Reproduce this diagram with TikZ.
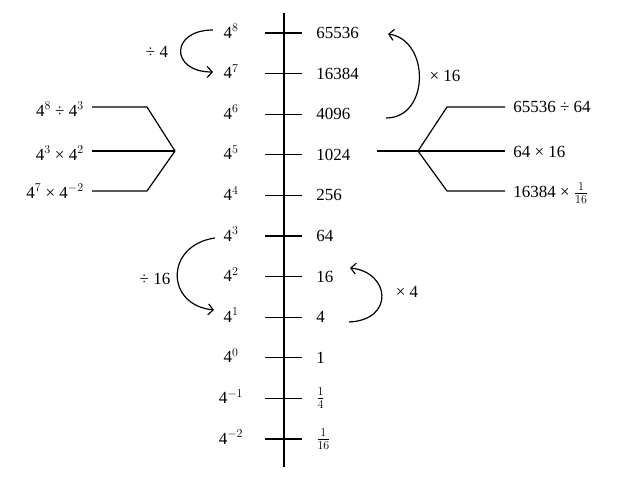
\documentclass[tikz,border=0pt]{standalone}
\usepackage{fontspec}
\setmainfont{Liberation Serif}
\usetikzlibrary{arrows.meta}
\begin{document}
\begin{tikzpicture}[x=1pt,y=1pt,yscale=-1,xscale=1,line width=1.2pt,
  lbl/.style={inner sep=0.75pt,font=\fontsize{17}{20}\selectfont},
  arc/.style={-{Straight Barb[length=5pt,width=11pt]}}]
\useasboundingbox (0,0) rectangle (626,489);

% Axis
\draw (284,13) -- (284,467);
% Ticks, powers and values
\foreach \i/\p/\v in {0/8/65536,1/7/16384,2/6/4096,3/5/1024,4/4/256,5/3/64,6/2/16,7/1/4,8/0/1,
  9/{-1}/{$\frac{1}{4}$},10/{-2}/{$\frac{1}{16}$}}{
  \draw (265,33+40.6*\i) -- (302,33+40.6*\i);
  \node[lbl] (p\i) at (231,31+40.6*\i) {4$^{\p}$};
  \node[lbl,anchor=west] (v\i) at (315,33+40.6*\i) {\v};
}

% Left fork
\coordinate (lj) at (175,151);
\draw (92,107) -- (147,107) -- (lj);
\draw (92,151) -- (lj);
\draw (92,191) -- (147,191) -- (lj);
\node[lbl,anchor=east] (l1) at (85,109) {4$^{8}$ ÷ 4$^{3}$};
\node[lbl,anchor=east] (l2) at (85,153) {4$^{3}$ × 4$^{2}$};
\node[lbl,anchor=east] (l3) at (85,191) {4$^{7}$ × 4$^{-2}$};

% Right fork
\coordinate (rj) at (418,151);
\draw (377,151) -- (rj);
\draw (rj) -- (447,107) -- (505,107);
\draw (rj) -- (505,151);
\draw (rj) -- (447,191) -- (505,191);
\node[lbl,anchor=west] (r1) at (512,107) {65536 ÷ 64};
\node[lbl,anchor=west] (r2) at (512,152) {64 × 16};
\node[lbl,anchor=west] (r3) at (512,193) {16384 × $\frac{1}{16}$};

% Curved arrows
\draw[arc] (213,30) .. controls (170,30) and (170,72) .. (213,72);
\node[lbl] (d4) at (157,52) {÷ 4};
\draw[arc] (386,118) .. controls (430,118) and (430,40) .. (388,34);
\node[lbl] (m16) at (445,76) {× 16};
\draw[arc] (215,238) .. controls (165,245) and (165,305) .. (214,310);
\node[lbl] (d16) at (155,279) {÷ 16};
\draw[arc] (349,322) .. controls (395,320) and (390,272) .. (350,268);
\node[lbl] (m4) at (407,292) {× 4};
\end{tikzpicture}
\end{document}
